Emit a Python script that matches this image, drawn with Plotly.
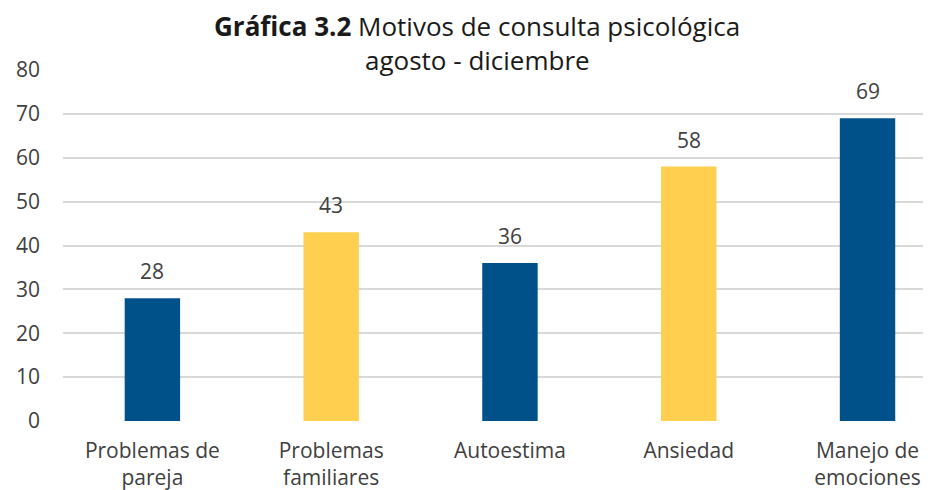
import plotly.graph_objects as go

categories = ["Problemas de<br>pareja", "Problemas<br>familiares", "Autoestima", "Ansiedad", "Manejo de<br>emociones"]
values = [28, 43, 36, 58, 69]
bar_colors = ["#00508A", "#FFCF4F", "#00508A", "#FFCF4F", "#00508A"]
y_ticks = [0, 10, 20, 30, 40, 50, 60, 70, 80]

FONT = "'Open Sans', sans-serif"
TXT = "#404040"

fig = go.Figure()
fig.add_trace(go.Bar(
    x=list(range(len(categories))), y=values,
    marker=dict(color=bar_colors, line=dict(width=0)),
    width=0.31, showlegend=False, hoverinfo="skip",
))

for i, v in enumerate(values):
    fig.add_annotation(x=i, y=v, text=str(v), showarrow=False,
                       yanchor="bottom", yshift=11,
                       font=dict(family=FONT, size=21, color=TXT))

fig.add_annotation(
    text="<b>Gráfica 3.2</b> Motivos de consulta psicológica",
    xref="paper", yref="paper", x=(477 - 63) / 868, y=1 + (70 - 26) / 351,
    xanchor="center", yanchor="middle", showarrow=False,
    font=dict(family=FONT, size=26, color="#1a1a1a"),
)
fig.add_annotation(
    text="agosto - diciembre",
    xref="paper", yref="paper", x=(477 - 63) / 868, y=1 + (70 - 60) / 351,
    xanchor="center", yanchor="middle", showarrow=False,
    font=dict(family=FONT, size=26, color="#1a1a1a"),
)

fig.update_layout(
    width=931, height=490,
    margin=dict(l=55, r=8, t=62, b=77, autoexpand=False),
    paper_bgcolor="white", plot_bgcolor="white",
    xaxis=dict(
        tickmode="array", tickvals=list(range(len(categories))), ticktext=categories,
        range=[-0.5, 4.355], showgrid=False, zeroline=False, showline=False,
        tickfont=dict(family=FONT, size=21, color=TXT), ticks="", automargin=False,
        ticklabelstandoff=15,
    ),
    yaxis=dict(
        range=[0, 80], tickvals=y_ticks, showgrid=True, gridcolor="#D9D9D9", gridwidth=2,
        zeroline=False, showline=False, ticks="", ticklabelstandoff=22, automargin=False,
        tickfont=dict(family=FONT, size=21, color=TXT),
    ),
)

fig.write_html("out.html")
